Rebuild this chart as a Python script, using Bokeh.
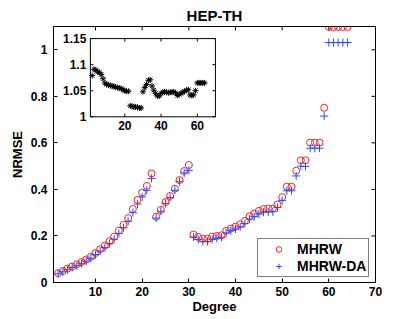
from bokeh.plotting import figure
from bokeh.models import Range1d, FixedTicker, PrintfTickFormatter
from bokeh.embed import file_html
from bokeh.resources import INLINE
from bokeh.core.properties import value

# ---------------- data ----------------
degree = list(range(2, 65))
mhrw = [0.040, 0.050, 0.060, 0.069, 0.078, 0.088, 0.099, 0.111, 0.127, 0.143,
        0.159, 0.178, 0.197, 0.223, 0.248, 0.277, 0.316, 0.355, 0.386, 0.415,
        0.469, 0.283, 0.312, 0.346, 0.372, 0.403, 0.440, 0.479, 0.505, 0.206,
        0.196, 0.188, 0.188, 0.197, 0.200, 0.203, 0.222, 0.232, 0.240, 0.250,
        0.265, 0.285, 0.296, 0.308, 0.316, 0.318, 0.318, 0.335, 0.367, 0.412,
        0.412, 0.480, 0.525, 0.525, 0.601, 0.601, 0.601, 0.751, 1.098, 1.098,
        1.098, 1.098, 1.098]
mhrw_da = [0.037, 0.046, 0.055, 0.064, 0.072, 0.081, 0.092, 0.104, 0.120, 0.135,
           0.150, 0.168, 0.186, 0.211, 0.235, 0.263, 0.300, 0.337, 0.368, 0.396,
           0.447, 0.277, 0.306, 0.340, 0.365, 0.396, 0.433, 0.471, 0.482, 0.195,
           0.185, 0.176, 0.176, 0.186, 0.190, 0.194, 0.213, 0.223, 0.230, 0.239,
           0.253, 0.272, 0.283, 0.294, 0.302, 0.303, 0.304, 0.322, 0.352, 0.394,
           0.394, 0.458, 0.500, 0.499, 0.577, 0.577, 0.577, 0.715, 1.031, 1.031,
           1.031, 1.031, 1.031]
ratio = [1.079, 1.091, 1.090, 1.086, 1.085, 1.081, 1.073, 1.065, 1.062, 1.061,
         1.060, 1.059, 1.058, 1.057, 1.056, 1.055, 1.054, 1.052, 1.050, 1.049,
         1.049, 1.021, 1.020, 1.019, 1.019, 1.018, 1.017, 1.017, 1.048, 1.056,
         1.062, 1.070, 1.071, 1.059, 1.051, 1.045, 1.040, 1.040, 1.045, 1.047,
         1.048, 1.047, 1.046, 1.047, 1.047, 1.048, 1.046, 1.041, 1.043, 1.045,
         1.047, 1.049, 1.051, 1.052, 1.042, 1.041, 1.042, 1.050, 1.065, 1.065,
         1.065, 1.065, 1.065]

x_ticks = [10, 20, 30, 40, 50, 60, 70]
y_ticks = [0, 0.2, 0.4, 0.6, 0.8, 1.0]
x_lim = (1, 70)
y_lim = (0, 1.1)

inset_x_lim = (1, 70)
inset_y_lim = (1.0, 1.15)
inset_x_ticks = [20, 40, 60]
inset_x_labels = ["20", "40", "60"]
inset_y_ticks = [1.0, 1.05, 1.1, 1.15]
inset_y_labels = ["1", "1.05", "1.1", "1.15"]

# ---------------- layout ----------------
W, H = 399, 316
BL, BR, BT, BB = 53, 24, 26, 34
FONT = "Liberation Sans"
# inset box placement, expressed in main-axes data units
INSET_BOX_X = (8.9, 35.7)
INSET_BOX_Y = (0.712, 1.048)
TICK_PX = 4.0

p = figure(width=W, height=H, output_backend="svg", toolbar_location=None,
           x_range=Range1d(*x_lim), y_range=Range1d(*y_lim),
           min_border_left=BL, min_border_right=BR,
           min_border_top=BT, min_border_bottom=BB,
           title="HEP-TH")
p.title.align = "center"
p.title.text_font = FONT
p.title.text_font_size = "15px"
p.title.text_font_style = "bold"
p.title.text_color = "black"
p.title.standoff = 6
p.grid.visible = False
p.outline_line_color = "black"
p.background_fill_color = "white"
p.border_fill_color = "white"

def style_axis(ax, ticks, standoff):
    ax.ticker = FixedTicker(ticks=ticks)
    ax.major_tick_in = int(TICK_PX)
    ax.major_tick_out = 0
    ax.minor_tick_in = 0
    ax.minor_tick_out = 0
    ax.axis_line_color = "black"
    ax.major_tick_line_color = "black"
    ax.formatter = PrintfTickFormatter(format="%g")
    ax.major_label_text_font = FONT
    ax.major_label_text_font_style = "bold"
    ax.major_label_text_color = "black"
    ax.major_label_text_font_size = "12px"
    ax.major_label_standoff = standoff
    ax.axis_label_text_font = FONT
    ax.axis_label_text_font_style = "bold"
    ax.axis_label_text_font_size = "13px"
    ax.axis_label_text_color = "black"

style_axis(p.xaxis[0], x_ticks, 4)
style_axis(p.yaxis[0], y_ticks, 6)
p.xaxis.axis_label = "Degree"
p.yaxis.axis_label = "NRMSE"
p.xaxis.axis_label_standoff = 0
p.yaxis.axis_label_standoff = 3

# approximate pixel scale of the main frame, for tick lengths in data units
fw_est = W - BL - BR
fh_est = H - BT - BB
px_x = (x_lim[1] - x_lim[0]) / fw_est
px_y = (y_lim[1] - y_lim[0]) / fh_est

# top and right inward ticks (box style)
nx, ny = len(x_ticks), len(y_ticks)
p.segment(x0=x_ticks, y0=[y_lim[1]] * nx, x1=x_ticks,
          y1=[y_lim[1] - TICK_PX * px_y] * nx, line_color="black")
p.segment(x0=[x_lim[1]] * ny, y0=y_ticks, x1=[x_lim[1] - TICK_PX * px_x] * ny,
          y1=y_ticks, line_color="black")

# ---------------- main series ----------------
p.scatter(degree, mhrw, marker="circle", size=7, fill_color=None,
          line_color="#ff2020", line_width=1, legend_label="MHRW")
p.scatter(degree, mhrw_da, marker="cross", size=8,
          line_color="#2a4bff", line_width=1, legend_label="MHRW-DA")

# ---------------- inset (drawn through extra ranges) ----------------
def extra_range(lim, box, main_lim):
    k = (lim[1] - lim[0]) / (box[1] - box[0])
    return Range1d(lim[0] - (box[0] - main_lim[0]) * k,
                   lim[1] + (main_lim[1] - box[1]) * k)

p.extra_x_ranges = {"ix": extra_range(inset_x_lim, INSET_BOX_X, x_lim)}
p.extra_y_ranges = {"iy": extra_range(inset_y_lim, INSET_BOX_Y, y_lim)}
kw = dict(x_range_name="ix", y_range_name="iy")

p.quad(left=[inset_x_lim[0]], right=[inset_x_lim[1]],
       bottom=[inset_y_lim[0]], top=[inset_y_lim[1]],
       fill_color="white", line_color="black", line_width=1, **kw)

ipx_x = px_x * (inset_x_lim[1] - inset_x_lim[0]) / (INSET_BOX_X[1] - INSET_BOX_X[0])
ipx_y = px_y * (inset_y_lim[1] - inset_y_lim[0]) / (INSET_BOX_Y[1] - INSET_BOX_Y[0])
dx, dy = 3 * ipx_x, 3 * ipx_y
n = len(inset_x_ticks)
p.segment(x0=inset_x_ticks, y0=[inset_y_lim[0]] * n, x1=inset_x_ticks,
          y1=[inset_y_lim[0] + dy] * n, line_color="black", **kw)
p.segment(x0=inset_x_ticks, y0=[inset_y_lim[1]] * n, x1=inset_x_ticks,
          y1=[inset_y_lim[1] - dy] * n, line_color="black", **kw)
m = len(inset_y_ticks)
p.segment(x0=[inset_x_lim[0]] * m, y0=inset_y_ticks, x1=[inset_x_lim[0] + dx] * m,
          y1=inset_y_ticks, line_color="black", **kw)
p.segment(x0=[inset_x_lim[1]] * m, y0=inset_y_ticks, x1=[inset_x_lim[1] - dx] * m,
          y1=inset_y_ticks, line_color="black", **kw)

p.text(x=inset_x_ticks, y=[inset_y_lim[0]] * n, text=inset_x_labels,
       text_font=value(FONT), text_font_style="bold", text_font_size="12px",
       text_align="center", text_baseline="top", y_offset=4, text_color="black", **kw)
p.text(x=[inset_x_lim[0]] * m, y=inset_y_ticks, text=inset_y_labels,
       text_font=value(FONT), text_font_style="bold", text_font_size="12px",
       text_align="right", text_baseline="middle", x_offset=-4, text_color="black", **kw)

p.scatter(degree, ratio, marker="asterisk", size=6, line_color="black",
          line_width=1, **kw)

# ---------------- legend ----------------
lg = p.legend[0]
lg.location = (204, 5)
lg.border_line_color = "black"
lg.border_line_width = 1
lg.background_fill_color = "white"
lg.background_fill_alpha = 1
lg.label_text_font = FONT
lg.label_text_font_style = "bold"
lg.label_text_font_size = "14px"
lg.label_text_color = "black"
lg.glyph_width = 37
lg.glyph_height = 14
lg.label_height = 14
lg.label_standoff = 0
lg.spacing = 1
lg.padding = 2
lg.margin = 0

open("out.html", "w").write(file_html(p, INLINE))
